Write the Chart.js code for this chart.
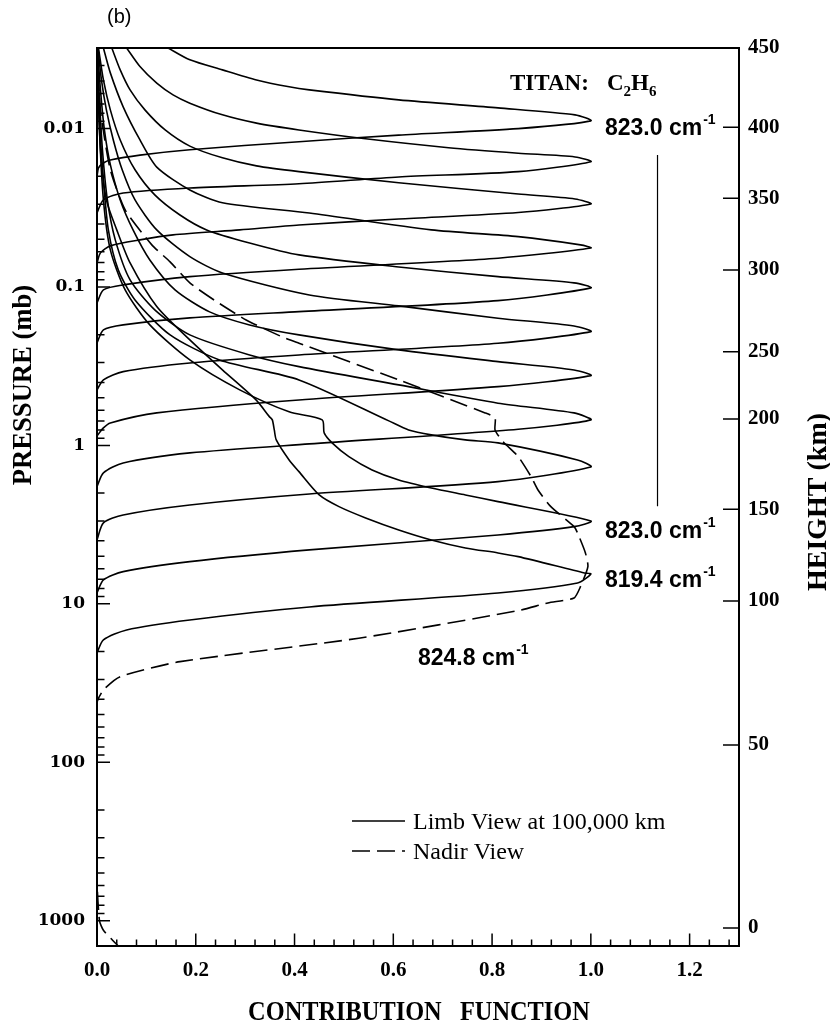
<!DOCTYPE html>
<html>
<head>
<meta charset="utf-8">
<style>
  html, body { margin: 0; padding: 0; background: #fff; }
  #wrap { width: 830px; height: 1024px; }
</style>
</head>
<body>
<div id="wrap"><canvas id="cf" width="830" height="1024"></canvas></div>
<script src="https://cdn.jsdelivr.net/npm/chart.js@4.4.1/dist/chart.umd.min.js"></script>
<script>
// contribution function vs pressure (mb), points are [value, pressure]
const limb1 = [[0.144,0.0031],[0.188,0.00368],[0.254,0.00426],[0.323,0.00493],[0.389,0.00545],[0.43,0.0057],[0.611,0.00659],[0.812,0.0074],[0.968,0.00819],[1.0,0.00894],
  [0.853,0.0100],[0.611,0.0110],[0.409,0.0121],[0.188,0.0136],[0.087,0.0147],[0.027,0.0158],[0.013,0.0165],[0.003,0.0177],[0,0.0201]];
const limb2 = [[0.06,0.0031],[0.087,0.00406],[0.121,0.00517],[0.154,0.00613],[0.188,0.00691],[0.254,0.00819],[0.323,0.00924],[0.409,0.0102],[0.544,0.0116],[0.712,0.0132],[0.853,0.0143],[0.968,0.0151],[1.0,0.0162],
  [0.853,0.0187],[0.611,0.0202],[0.409,0.0223],[0.188,0.0237],[0.053,0.0255],[0.013,0.0282],[0,0.0341]];
const limb3 = [[0.03,0.0031],[0.047,0.00426],[0.067,0.0057],[0.097,0.00762],[0.138,0.0102],[0.188,0.0129],[0.254,0.0153],[0.323,0.0172],[0.409,0.0187],[0.611,0.022],[0.853,0.0259],[0.968,0.0278],[1.0,0.0299],
  [0.853,0.0339],[0.611,0.0372],[0.409,0.0406],[0.289,0.0436],[0.154,0.0469],[0.087,0.0504],[0.027,0.055],[0.007,0.0609],[0,0.0705]];
const limb4 = [[0.013,0.0031],[0.027,0.00445],[0.053,0.00729],[0.087,0.0118],[0.121,0.0175],[0.188,0.0244],[0.254,0.0294],[0.43,0.0341],[0.677,0.0436],[0.853,0.0481],[0.979,0.0542],[1.0,0.0567],
  [0.812,0.0658],[0.409,0.0772],[0.188,0.086],[0.053,0.097],[0.013,0.1043],[0,0.126]];
const limb5 = [[0.003,0.0031],[0.013,0.00493],[0.027,0.00762],[0.047,0.0118],[0.077,0.0182],[0.117,0.0262],[0.168,0.0351],[0.222,0.0436],[0.309,0.0527],[0.409,0.0627],[0.611,0.0747],[0.812,0.086],[0.966,0.0942],[1.0,0.1013],
  [0.812,0.1219],[0.409,0.143],[0.188,0.1567],[0.053,0.1735],[0.013,0.1866],[0,0.2254]];
const limb6 = [[0.002,0.0031],[0.009,0.00493],[0.019,0.00762],[0.033,0.0118],[0.051,0.0182],[0.077,0.0282],[0.121,0.0436],[0.188,0.0643],[0.254,0.0815],[0.43,0.1122],[0.611,0.1316],[0.812,0.1574],[0.966,0.1761],[1.0,0.1913],
  [0.812,0.2264],[0.409,0.2684],[0.188,0.3015],[0.053,0.342],[0.013,0.386],[0,0.446]];
const limb7 = [[0.001,0.0031],[0.007,0.0057],[0.015,0.0102],[0.027,0.0169],[0.047,0.0282],[0.073,0.0436],[0.107,0.0675],[0.158,0.1043],[0.228,0.1436],[0.309,0.1735],[0.409,0.2006],[0.611,0.2495],[0.812,0.2958],[0.966,0.3338],[1.0,0.3626],
  [0.812,0.4254],[0.409,0.5163],[0.121,0.6234],[0.027,0.7211],[0.013,0.7753],[0,0.871]];
const limb8 = [[0.0,0.0031],[0.005,0.00659],[0.011,0.0136],[0.021,0.0282],[0.037,0.0504],[0.067,0.0902],[0.117,0.1394],[0.188,0.2006],[0.309,0.2684],[0.409,0.318],[0.611,0.415],[0.812,0.5415],[0.966,0.6234],[1.0,0.69],
  [0.853,0.79],[0.43,0.978],[0.188,1.115],[0.053,1.29],[0.013,1.492],[0,1.82]];
const limb9 = [[0.0,0.0031],[0.005,0.0088],[0.013,0.0211],[0.023,0.0436],[0.043,0.078],[0.077,0.1206],[0.148,0.2006],[0.248,0.2885],[0.409,0.386],[0.591,0.7],[0.631,0.798],[0.677,0.858],[0.746,0.923],[0.812,0.964],[0.973,1.235],[1.0,1.367],
  [0.812,1.692],[0.43,2.024],[0.188,2.375],[0.053,2.747],[0.013,3.086],[0,3.951]];
const limb10 = [[0.0,0.0031],[0.005,0.0102],[0.013,0.0282],[0.027,0.0583],[0.057,0.1043],[0.107,0.1735],[0.188,0.2885],[0.289,0.446],[0.389,0.614],[0.456,0.69],[0.46,0.834],[0.476,0.964],[0.51,1.177],[0.557,1.428],[0.611,1.652],[0.677,1.855],[0.746,2.054],[0.812,2.264],[1.0,2.998],
  [0.966,3.256],[0.812,3.673],[0.43,4.567],[0.188,5.415],[0.053,6.263],[0.013,7.066],[0,8.535]];
const limb11 = [[0.0,0.0031],[0.007,0.0136],[0.019,0.0282],[0.04,0.0436],[0.067,0.0705],[0.121,0.1329],[0.188,0.2158],[0.254,0.3338],[0.322,0.5163],[0.349,0.658],[0.355,0.69],[0.359,0.798],[0.363,0.923],[0.389,1.235],[0.409,1.464],[0.45,2.054],[0.49,2.435],[0.544,2.87],[0.611,3.417],[0.677,3.951],[0.746,4.437],[0.812,4.771],[0.853,5.035],[0.987,6.381],[1.0,6.475],
  [0.973,7.382],[0.812,8.535],[0.43,10.46],[0.188,12.64],[0.06,14.61],[0.013,16.9],[0,20.42]];
const nadir = [[0.0,0.0031],[0.007,0.00762],[0.027,0.0182],[0.057,0.0326],[0.111,0.0542],[0.148,0.0694],[0.188,0.0942],[0.242,0.1237],[0.302,0.1614],[0.375,0.2065],[0.409,0.2264],[0.611,0.386],[0.786,0.6234],[0.806,0.671],[0.806,0.798],[0.822,0.946],[0.853,1.177],[0.879,1.574],[0.893,1.91],[0.919,2.435],[0.966,3.256],[0.973,3.568],[0.989,4.771],[0.994,5.824],[0.979,7.787],[0.966,9.18],[0.913,9.87],[0.853,11.04],[0.53,16.49],[0.168,23.17],[0.047,28.81],[0.013,34.97],[0,42.41],
  [0,554],[0.005,1000],[0.013,1150],[0.037,1383],[0.043,1445]];

const limbCurves = [limb1, limb2, limb3, limb4, limb5, limb6, limb7, limb8, limb9, limb10, limb11];

// axes
const pressureTicks = [0.01, 0.1, 1, 10, 100, 1000];
const pressureLabels = ['0.01', '0.1', '1', '10', '100', '1000'];
const heightLabels = ['450', '400', '350', '300', '250', '200', '150', '100', '50', '0'];
const heightPressure = [0.0031, 0.0098, 0.0275, 0.078, 0.256, 0.68, 2.53, 9.59, 77.8, 1112];
const xTicks = [0, 0.2, 0.4, 0.6, 0.8, 1.0, 1.2];
const pMin = 0.0031, pMax = 1445;

const serifBold = (s) => ({ family: 'Liberation Serif', size: s, weight: 'bold' });

const toPts = (arr) => arr.map(([x, p]) => ({ x: x, y: p }));

const datasets = limbCurves.map((c, i) => ({
  label: i === 0 ? 'Limb View at 100,000 km' : 'limb ' + (i + 1),
  data: toPts(c),
  showLine: true,
  borderColor: '#000',
  borderWidth: 1.6,
  pointRadius: 0,
  tension: 0.25,
  yAxisID: 'y'
}));
datasets.push({
  label: 'Nadir View',
  data: toPts(nadir),
  showLine: true,
  borderColor: '#000',
  borderWidth: 1.6,
  borderDash: [18, 7],
  pointRadius: 0,
  tension: 0.2,
  yAxisID: 'y'
});

// text squeezed horizontally, like the narrow bold face of the original
function squeezed(ctx, text, x, y, sx, rot) {
  ctx.save();
  ctx.translate(x, y);
  if (rot) ctx.rotate(rot);
  ctx.scale(sx, 1);
  ctx.fillText(text, 0, 0);
  ctx.restore();
}

// frame, inward ticks, and labels drawn over the plot
const decor = {
  id: 'decor',
  afterDraw(chart) {
    const { ctx, chartArea: a, scales } = chart;
    const sx = scales.x, sy = scales.y, sy2 = scales.y2;
    ctx.save();
    ctx.strokeStyle = '#000';
    ctx.lineWidth = 2;
    ctx.strokeRect(a.left, a.top, a.right - a.left, a.bottom - a.top);

    ctx.lineWidth = 1.5;
    ctx.beginPath();
    // bottom ticks
    for (let i = 0; i <= 32; i++) {
      const v = i * 0.04;
      const px = sx.getPixelForValue(v);
      const len = i % 5 === 0 ? 12.5 : 6.5;
      ctx.moveTo(px, a.bottom);
      ctx.lineTo(px, a.bottom - len);
    }
    // left log ticks
    for (let k = -3; k <= 3; k++) {
      for (let m = 1; m <= 9; m++) {
        const v = m * Math.pow(10, k);
        if (v < pMin || v > pMax) continue;
        const py = sy.getPixelForValue(v);
        const len = m === 1 ? 13 : 7.5;
        ctx.moveTo(a.left, py);
        ctx.lineTo(a.left + len, py);
      }
    }
    // right height ticks
    heightPressure.forEach(v => {
      const py = sy2.getPixelForValue(v);
      ctx.moveTo(a.right, py);
      ctx.lineTo(a.right - 16, py);
    });
    ctx.stroke();

    // bracket line for the 823.0 cm-1 limb set
    ctx.lineWidth = 1.2;
    ctx.beginPath();
    ctx.moveTo(sx.getPixelForValue(1.135), sy.getPixelForValue(0.0147));
    ctx.lineTo(sx.getPixelForValue(1.135), sy.getPixelForValue(2.42));
    ctx.stroke();

    ctx.fillStyle = '#000';
    ctx.textBaseline = 'alphabetic';

    // panel tag
    ctx.font = '20px "Liberation Sans"';
    ctx.textAlign = 'left';
    ctx.fillText('(b)', 107, 23);

    // axis titles
    ctx.font = 'bold 28px "Liberation Serif"';
    ctx.textAlign = 'center';
    squeezed(ctx, 'CONTRIBUTION   FUNCTION', 419, 1020, 0.87);
    squeezed(ctx, 'PRESSURE (mb)', 31, 385, 0.95, -Math.PI / 2);
    squeezed(ctx, 'HEIGHT (km)', 826, 502, 1.0, -Math.PI / 2);

    // species tag with subscripts
    ctx.textAlign = 'left';
    ctx.font = 'bold 23px "Liberation Serif"';
    ctx.fillText('TITAN:', 510, 90);
    let cx = 607;
    const sub = (main, s) => {
      ctx.font = 'bold 23px "Liberation Serif"';
      ctx.fillText(main, cx, 90);
      cx += ctx.measureText(main).width;
      ctx.font = 'bold 15px "Liberation Serif"';
      ctx.fillText(s, cx, 96);
      cx += ctx.measureText(s).width;
    };
    sub('C', '2');
    sub('H', '6');

    // wavenumber tags with superscript
    const wav = (t, x0, yb) => {
      ctx.font = 'bold 23px "Liberation Sans"';
      ctx.fillText(t, x0, yb);
      const w = ctx.measureText(t).width;
      ctx.font = 'bold 14px "Liberation Sans"';
      ctx.fillText('-1', x0 + w + 1, yb - 11);
    };
    wav('823.0 cm', 605, 135);
    wav('823.0 cm', 605, 538);
    wav('819.4 cm', 605, 587);
    wav('824.8 cm', 418, 665);

    // legend
    ctx.lineWidth = 1.6;
    ctx.beginPath();
    ctx.moveTo(352, 821); ctx.lineTo(405, 821);
    ctx.stroke();
    ctx.setLineDash([18, 7]);
    ctx.beginPath();
    ctx.moveTo(352, 851); ctx.lineTo(405, 851);
    ctx.stroke();
    ctx.setLineDash([]);
    ctx.font = '24px "Liberation Serif"';
    ctx.fillText('Limb View at 100,000 km', 413, 829);
    ctx.fillText('Nadir View', 413, 859);
    ctx.restore();
  }
};

new Chart(document.getElementById('cf'), {
  type: 'scatter',
  data: { datasets: datasets },
  options: {
    responsive: false,
    animation: false,
    devicePixelRatio: 1,
    layout: { padding: { top: 48, right: 0, bottom: 0, left: 0 } },
    plugins: { legend: { display: false }, tooltip: { enabled: false } },
    scales: {
      x: {
        type: 'linear',
        min: 0, max: 1.3,
        afterFit: (s) => { s.height = 78; },
        afterBuildTicks: (s) => { s.ticks = xTicks.map(v => ({ value: v })); },
        grid: { display: false, drawTicks: false },
        border: { display: false },
        ticks: { color: '#000', font: serifBold(21), padding: 12, maxRotation: 0, autoSkip: false,
          callback: (v) => Number(v).toFixed(1) }
      },
      y: {
        type: 'logarithmic',
        position: 'left',
        reverse: true,
        min: pMin, max: pMax,
        afterFit: (s) => { s.width = 97; },
        afterBuildTicks: (s) => { s.ticks = pressureTicks.map(v => ({ value: v })); },
        grid: { display: false, drawTicks: false },
        border: { display: false },
        ticks: { color: '#000', font: { family: 'DejaVu Serif', size: 17, weight: 'bold' }, padding: 12, autoSkip: false,
          callback: (v, i) => pressureLabels[i] }
      },
      y2: {
        type: 'logarithmic',
        position: 'right',
        reverse: true,
        min: pMin, max: pMax,
        afterFit: (s) => { s.width = 91; },
        afterBuildTicks: (s) => { s.ticks = heightPressure.map(v => ({ value: v })); },
        grid: { display: false, drawTicks: false },
        border: { display: false },
        ticks: { color: '#000', font: serifBold(21), padding: 9, autoSkip: false,
          callback: (v, i) => heightLabels[i] }
      }
    }
  },
  plugins: [decor]
});
</script>
</body>
</html>
